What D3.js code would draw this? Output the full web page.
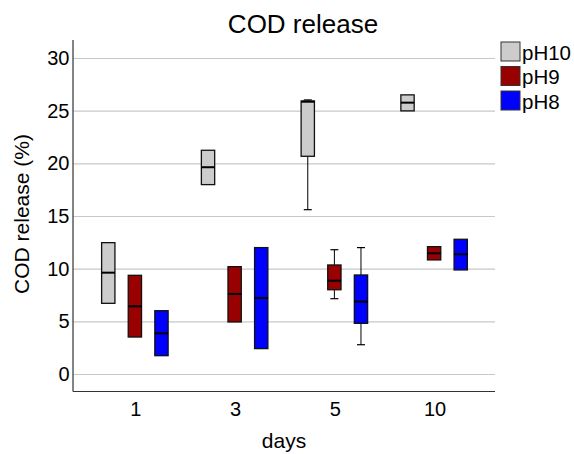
<!DOCTYPE html>
<html><head><meta charset="utf-8">
<script src="https://cdn.jsdelivr.net/npm/d3@7"></script>
<style>body{margin:0;background:#fff}svg{display:block}text{font-family:"Liberation Sans",Arial,sans-serif;fill:#000}</style>
</head><body><svg id="c" width="574" height="454"></svg>
<script>
const days = ["1","3","5","10"];
const series = ["pH10","pH9","pH8"];
const colors = ["#cccccc","#990000","#0000ff"];
const yTicks = [0,5,10,15,20,25,30];
// per series: values for days 1,3,5,10
const q1  = {pH10:[6.71,17.98,20.67,24.98], pH9:[3.51,4.94,8.0,10.83], pH8:[1.74,2.41,4.81,9.88]};
const med = {pH10:[9.62,19.63,25.85,25.76], pH9:[6.43,7.6,8.86,11.46], pH8:[3.86,7.22,6.87,11.37]};
const q3  = {pH10:[12.47,21.24,25.92,26.5], pH9:[9.37,10.19,10.35,12.09], pH8:[6.01,12.0,9.4,12.79]};
const lo  = {pH10:[6.71,17.98,15.6,24.98], pH9:[3.51,4.94,7.15,10.83], pH8:[1.74,2.41,2.78,9.88]};
const hi  = {pH10:[12.47,21.24,26.02,26.5], pH9:[9.37,10.19,11.8,12.09], pH8:[6.01,12.0,12.0,12.79]};

const svg = d3.select("#c");
const x = d3.scaleBand().domain(days).range([85,484]);
const xs = d3.scaleBand().domain(series).range([x.bandwidth()/6, x.bandwidth()*5/6]).paddingInner(0.5);
const y = d3.scaleLinear().domain([0,30]).range([374,58]);
const color = d3.scaleOrdinal().domain(series).range(colors);
const xL = 73, xR = 495;

// gridlines
svg.append("g").selectAll("line").data(yTicks).join("line")
  .attr("x1",xL).attr("x2",xR).attr("y1",d=>y(d)+0.5).attr("y2",d=>y(d)+0.5)
  .attr("stroke","#c8c8c8").attr("stroke-width",1.2);

// y tick labels
svg.append("g").selectAll("text").data(yTicks).join("text")
  .attr("x",69.5).attr("y",d=>y(d)).attr("dy","0.35em").attr("text-anchor","end")
  .attr("font-size",20).text(d=>d);

// axes lines
svg.append("line").attr("x1",xL).attr("x2",xL).attr("y1",y(31.7)).attr("y2",391.5).attr("stroke","#333").attr("stroke-width",1.2);
svg.append("line").attr("x1",xL).attr("x2",xR).attr("y1",391.5).attr("y2",391.5).attr("stroke","#333").attr("stroke-width",1.2);

// x tick labels
svg.append("g").selectAll("text").data(days).join("text")
  .attr("x",d=>x(d)+x.bandwidth()/2+1).attr("y",416).attr("text-anchor","middle")
  .attr("font-size",20).text(d=>d);

// boxes
const items = [];
series.forEach(s=>days.forEach((d,i)=>items.push({s,d,q1:q1[s][i],med:med[s][i],q3:q3[s][i],lo:lo[s][i],hi:hi[s][i]})));
const g = svg.append("g").selectAll("g").data(items).join("g")
  .attr("transform",d=>`translate(${x(d.d)+xs(d.s)},0)`);
const bw = xs.bandwidth();
g.filter(d=>d.hi>d.q3+0.05||d.lo<d.q1-0.05).each(function(d){
  const el = d3.select(this);
  const cx = bw/2, cw = 4;
  if(d.hi>d.q3){
    el.append("line").attr("x1",cx).attr("x2",cx).attr("y1",y(d.hi)).attr("y2",y(d.q3)).attr("stroke","#000").attr("stroke-width",1);
    el.append("line").attr("x1",cx-cw).attr("x2",cx+cw).attr("y1",y(d.hi)).attr("y2",y(d.hi)).attr("stroke","#000").attr("stroke-width",1.2);
  }
  if(d.lo<d.q1){
    el.append("line").attr("x1",cx).attr("x2",cx).attr("y1",y(d.q1)).attr("y2",y(d.lo)).attr("stroke","#000").attr("stroke-width",1);
    el.append("line").attr("x1",cx-cw).attr("x2",cx+cw).attr("y1",y(d.lo)).attr("y2",y(d.lo)).attr("stroke","#000").attr("stroke-width",1.2);
  }
});
g.append("rect").attr("x",0).attr("width",bw).attr("y",d=>y(d.q3)).attr("height",d=>y(d.q1)-y(d.q3))
  .attr("fill",d=>color(d.s)).attr("stroke","#111").attr("stroke-width",1.3);
g.append("line").attr("x1",0).attr("x2",bw).attr("y1",d=>y(d.med)).attr("y2",d=>y(d.med))
  .attr("stroke","#000").attr("stroke-width",2);

// titles
svg.append("text").attr("x",303).attr("y",33).attr("text-anchor","middle").attr("font-size",26).text("COD release");
svg.append("text").attr("transform","translate(29,214) rotate(-90)").attr("text-anchor","middle").attr("font-size",21).text("COD release (%)");
svg.append("text").attr("x",284).attr("y",448).attr("text-anchor","middle").attr("font-size",21).text("days");

// legend
const lg = svg.append("g").selectAll("g").data(series).join("g")
  .attr("transform",(d,i)=>`translate(501,${42+i*24.5})`);
lg.append("rect").attr("width",19).attr("height",19).attr("fill",d=>color(d)).attr("stroke","#333").attr("stroke-width",1);
lg.append("text").attr("x",21).attr("y",17.5).attr("font-size",20.5).text(d=>d);
</script></body></html>
